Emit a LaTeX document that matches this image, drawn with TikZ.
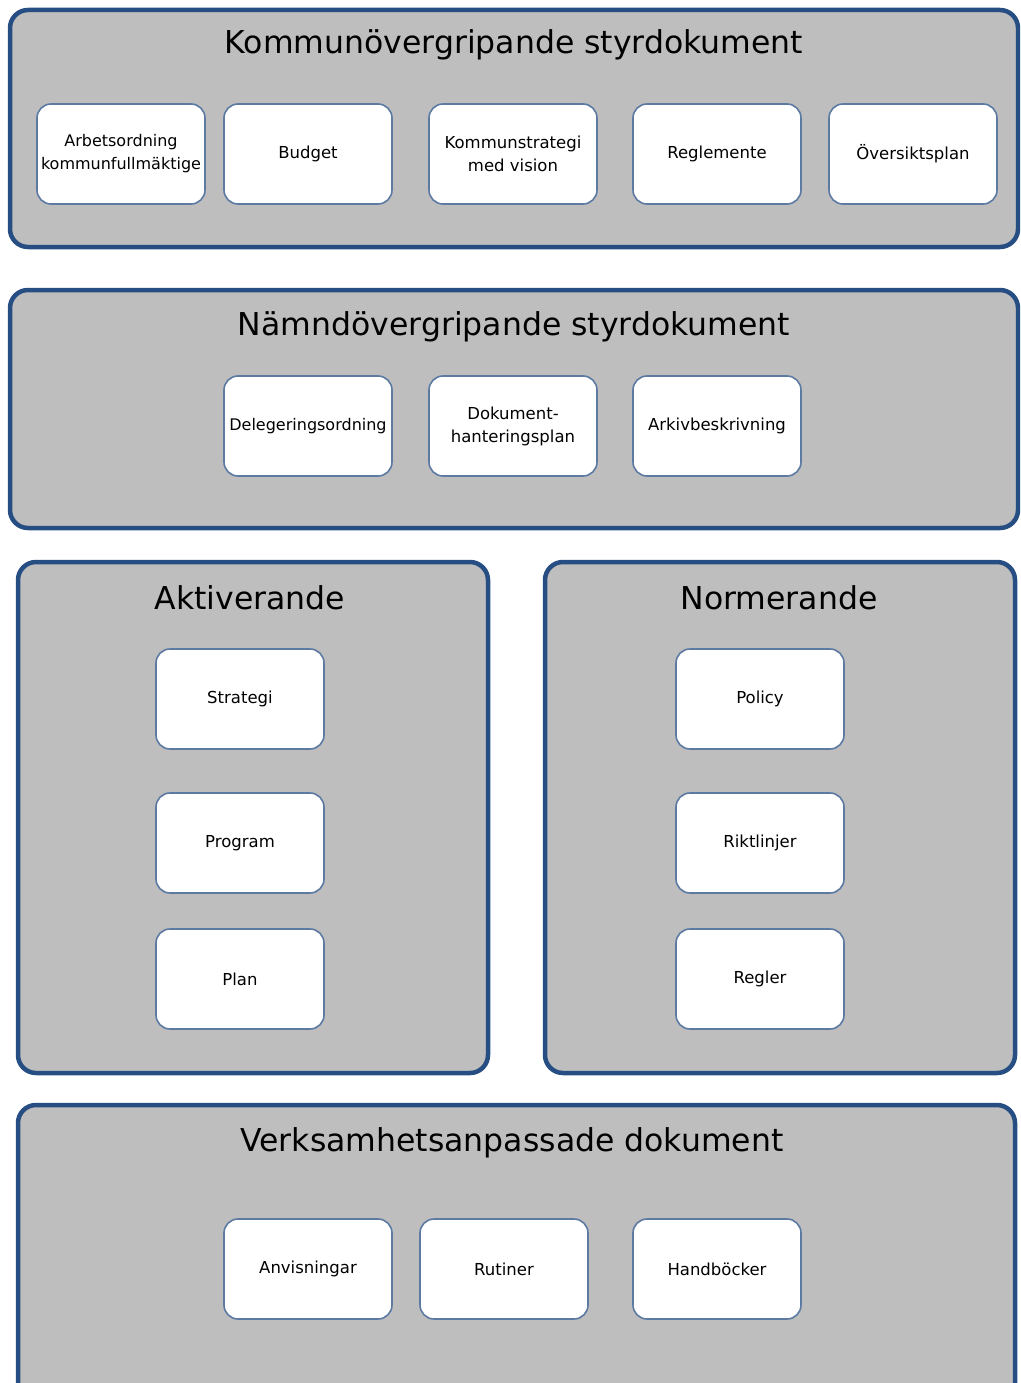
\documentclass[tikz,border=0pt]{standalone}
\usepackage{fontspec}
\setmainfont{DejaVu Sans}
\definecolor{frameblue}{RGB}{38,78,130}
\definecolor{cardblue}{RGB}{92,122,162}
\definecolor{panelgray}{RGB}{190,190,190}
\tikzset{
  panel/.style={draw=frameblue, line width=4.5pt, fill=panelgray, rounded corners=18pt, inner sep=0pt},
  card/.style={draw=cardblue, line width=1.6pt, fill=white, rounded corners=14pt, minimum width=168pt, minimum height=100pt, inner sep=0pt, align=center, font=\fontsize{16.5}{23}\selectfont},
  ptitle/.style={inner sep=0pt, font=\fontsize{31.5}{36}\selectfont}
}
\begin{document}
\begin{tikzpicture}[x=1pt,y=-1pt]
\useasboundingbox (0,0) rectangle (1020,1383);
\clip (0,0) rectangle (1020,1383);
% panels
\node[panel, minimum width=1008pt, minimum height=237pt] (pK) at (514,128.5) {};
\node[panel, minimum width=1008pt, minimum height=238pt] (pN) at (514,409) {};
\node[panel, minimum width=470pt, minimum height=511pt] (pA) at (253,817.5) {};
\node[panel, minimum width=470pt, minimum height=511pt] (pR) at (780,817.5) {};
\node[panel, minimum width=997pt, minimum height=300pt] (pV) at (516.5,1255) {};
% titles
\node[ptitle] (tK) at (514,45) {Kommunövergripande styrdokument};
\node[ptitle] (tN) at (514,327) {Nämndövergripande styrdokument};
\node[ptitle] (tA) at (250,598) {Aktiverande};
\node[ptitle] (tR) at (779,598) {Normerande};
\node[ptitle] (tV) at (512,1143) {Verksamhetsanpassade dokument};
% top row
\node[card, font=\fontsize{16}{23}\selectfont] (arb) at (121,154) {Arbetsordning\\kommunfullmäktige};
\node[card] (bud) at (308,154) {Budget};
\node[card] (kst) at (513,154) {Kommunstrategi\\med vision};
\node[card] (reg) at (717,154) {Reglemente};
\node[card] (ovp) at (913,154) {Översiktsplan};
% second row
\node[card, font=\fontsize{16}{23}\selectfont] (del) at (308,426) {Delegeringsordning};
\node[card] (dok) at (513,426) {Dokument-\\hanteringsplan};
\node[card] (ark) at (717,426) {Arkivbeskrivning};
% aktiverande
\node[card] (str) at (240,699) {Strategi};
\node[card] (pro) at (240,843) {Program};
\node[card] (pla) at (240,979) {Plan};
% normerande
\node[card] (pol) at (760,699) {Policy};
\node[card] (rik) at (760,843) {Riktlinjer};
\node[card] (rgl) at (760,979) {Regler};
% verksamhet
\node[card] (anv) at (308,1269) {Anvisningar};
\node[card] (rut) at (504,1269) {Rutiner};
\node[card] (hand) at (717,1269) {Handböcker};
\end{tikzpicture}
\end{document}
